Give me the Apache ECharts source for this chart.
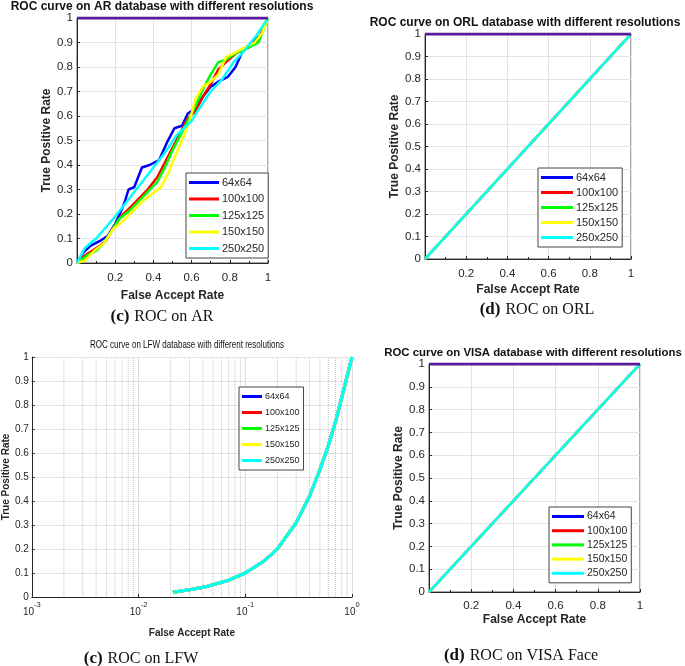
<!DOCTYPE html>
<html><head><meta charset="utf-8">
<script src="https://cdn.jsdelivr.net/npm/echarts@6/dist/echarts.min.js"></script>
<style>html,body{margin:0;padding:0;background:#fff}#c{width:685px;height:666px}</style>
</head><body><div id="c"></div>
<script>
// ---------- data ----------
const resolutions = ['64x64', '100x100', '125x125', '150x150', '250x250'];
const seriesColors = ['#0000ff', '#ff0000', '#00ff00', '#ffff00', '#00ffff'];

// AR database ROC (FAR, TPR)
const ar64 = [[0,0],[0.03,0.04],[0.07,0.07],[0.12,0.09],[0.16,0.11],[0.2,0.16],[0.23,0.21],[0.25,0.25],[0.27,0.3],[0.3,0.31],[0.34,0.39],[0.38,0.4],[0.43,0.42],[0.47,0.49],[0.51,0.55],[0.55,0.56],[0.58,0.61],[0.62,0.63],[0.66,0.68],[0.7,0.72],[0.74,0.74],[0.79,0.76],[0.83,0.8],[0.87,0.87],[0.92,0.9],[0.96,0.93],[1,1]];
const ar100 = [[0,0],[0.04,0.03],[0.08,0.05],[0.12,0.07],[0.15,0.09],[0.19,0.14],[0.23,0.19],[0.27,0.22],[0.32,0.26],[0.37,0.3],[0.42,0.35],[0.46,0.41],[0.5,0.47],[0.54,0.53],[0.58,0.59],[0.62,0.62],[0.66,0.68],[0.7,0.73],[0.74,0.79],[0.78,0.82],[0.84,0.86],[0.9,0.88],[0.95,0.91],[1,1]];
const ar125 = [[0,0],[0.05,0.03],[0.1,0.05],[0.14,0.08],[0.18,0.13],[0.22,0.18],[0.27,0.21],[0.32,0.25],[0.37,0.29],[0.42,0.33],[0.46,0.39],[0.5,0.46],[0.54,0.52],[0.58,0.58],[0.62,0.64],[0.66,0.71],[0.7,0.77],[0.74,0.82],[0.78,0.83],[0.84,0.86],[0.9,0.88],[0.95,0.9],[1,1]];
const ar150 = [[0,0],[0.04,0.01],[0.09,0.05],[0.14,0.08],[0.19,0.14],[0.24,0.17],[0.29,0.21],[0.34,0.25],[0.39,0.28],[0.44,0.31],[0.48,0.37],[0.51,0.43],[0.55,0.5],[0.59,0.58],[0.62,0.67],[0.66,0.72],[0.7,0.74],[0.74,0.77],[0.78,0.84],[0.83,0.86],[0.88,0.88],[0.93,0.9],[0.97,0.94],[1,1]];
const ar250 = [[0,0],[0.04,0.06],[0.1,0.1],[0.2,0.19],[0.3,0.29],[0.4,0.39],[0.46,0.45],[0.52,0.52],[0.56,0.55],[0.6,0.58],[0.64,0.63],[0.7,0.7],[0.76,0.75],[0.82,0.82],[0.88,0.87],[0.94,0.93],[1,1]];

// ORL and VISA: all resolutions on the chance diagonal
const diagonalRoc = [[0,0],[1,1]];
// line along TPR = 1
const topRoc = [[0,1],[1,1]];

// LFW (log FAR)
const lfwRoc = [[0.021,0.02],[0.03,0.03],[0.043,0.043],[0.07,0.07],[0.1,0.1],[0.15,0.15],[0.2,0.2],[0.3,0.31],[0.4,0.42],[0.5,0.53],[0.6,0.63],[0.7,0.73],[0.8,0.83],[0.9,0.92],[1,1]];

// tick labels
const linearXTickLabels = ['', '0.2', '0.4', '0.6', '0.8', '1'];
const logXTickExponents = {'-3': '-3', '-2': '-2', '-1': '-1', '0': '0'};
const lfwMinorTicks = [0.002,0.003,0.004,0.005,0.006,0.007,0.008,0.009,0.02,0.03,0.04,0.05,0.06,0.07,0.08,0.09,0.2,0.3,0.4,0.5,0.6,0.7,0.8,0.9];

const titles = [
  'ROC curve on AR database with different resolutions',
  'ROC curve on ORL database with different resolutions',
  'ROC curve on LFW database with different resolutions',
  'ROC curve on VISA database with different resolutions'
];
const captions = [['(c)', 'ROC on AR'], ['(d)', 'ROC on ORL'], ['(c)', 'ROC on LFW'], ['(d)', 'ROC on VISA Face']];

// ---------- chart ----------
const SANS = '"Liberation Sans", Arial, Helvetica, sans-serif';
const SERIF = '"Liberation Serif", "Times New Roman", serif';
const TXT = '#262626';

const grids = [
  {left: 77, top: 18, width: 191, height: 245},
  {left: 425, top: 34, width: 206, height: 225},
  {left: 24, top: 357, width: 328, height: 240},
  {left: 429, top: 364, width: 211, height: 228}
].map((g, i) => Object.assign({show: i !== 2, borderColor: '#555', borderWidth: 1, backgroundColor: 'transparent'}, g));

function linearX(idx, margin, nameGap) {
  return {
    type: 'value', gridIndex: idx, min: 0, max: 1, interval: 0.2,
    axisLine: {lineStyle: {color: TXT, width: 1}},
    axisTick: {inside: true, length: 3, lineStyle: {color: TXT}},
    minorTick: {show: true, splitNumber: 2, length: 2, lineStyle: {color: TXT}},
    splitLine: {show: true, lineStyle: {color: '#e3e3e3', width: 1}},
    axisLabel: {margin: margin, fontSize: 11.5, color: TXT, fontFamily: SANS,
      formatter: v => linearXTickLabels[Math.round(v / 0.2)]},
    name: 'False Accept Rate', nameLocation: 'middle', nameGap: nameGap,
    nameTextStyle: {fontSize: 12, fontWeight: 'bold', color: TXT, fontFamily: SANS}
  };
}
function linearY(idx, nameGap) {
  return {
    type: 'value', gridIndex: idx, min: 0, max: 1, interval: 0.1,
    axisLine: {lineStyle: {color: TXT, width: 1}},
    axisTick: {inside: true, length: 3, lineStyle: {color: TXT}},
    splitLine: {show: true, lineStyle: {color: '#e3e3e3', width: 1}},
    axisLabel: {margin: 4, fontSize: 11.5, color: TXT, fontFamily: SANS},
    name: 'True Positive Rate', nameLocation: 'middle', nameGap: nameGap,
    nameTextStyle: {fontSize: 12, fontWeight: 'bold', color: TXT, fontFamily: SANS}
  };
}

const xAxes = [
  linearX(0, 9, 27),
  linearX(1, 9, 25),
  {
    type: 'log', logBase: 10, gridIndex: 2, min: 0.001, max: 1,
    axisLine: {lineStyle: {color: TXT, width: 1}},
    axisTick: {inside: true, length: 3, lineStyle: {color: TXT}},
    splitLine: {show: true, lineStyle: {color: '#dcdcdc', width: 1}},
    axisLabel: {margin: 4, color: TXT, fontFamily: SANS,
      formatter: v => '{b|10}{s|' + (logXTickExponents[String(Math.round(Math.log10(v)))] || '') + '}',
      rich: {
        b: {fontSize: 10, lineHeight: 16, verticalAlign: 'bottom', color: TXT, fontFamily: SANS},
        s: {fontSize: 7.5, lineHeight: 16, verticalAlign: 'top', color: TXT, fontFamily: SANS}
      }},
    name: 'False Accept Rate', nameLocation: 'middle', nameGap: 31,
    nameTextStyle: {fontSize: 10, fontWeight: 'bold', color: TXT, fontFamily: SANS}
  },
  linearX(3, 8, 22)
];
const yAxes = [
  linearY(0, 22),
  linearY(1, 24),
  Object.assign(linearY(2, 13), {
    axisLabel: {margin: 3, fontSize: 10, color: TXT, fontFamily: SANS},
    nameTextStyle: {fontSize: 10, fontWeight: 'bold', color: TXT, fontFamily: SANS}
  }),
  linearY(3, 22)
];

function legend(left, top, iw, gap, fs, lh) {
  return {
    orient: 'vertical', left: left, top: top, data: resolutions.slice(),
    icon: 'rect', itemWidth: iw, itemHeight: 3, itemGap: gap,
    padding: [3, 4, 3, 3], borderColor: '#444', borderWidth: 1, backgroundColor: '#fff',
    selectedMode: false,
    textStyle: {fontSize: fs, color: TXT, fontFamily: SANS, lineHeight: lh, padding: [0, 0, 0, -2]}
  };
}
const legends = [
  legend(186, 173, 30, 3.5, 11, 13),
  legend(538, 168, 32, 2, 11, 13),
  legend(239, 387, 20, 3, 9, 13),
  legend(549, 507, 32, 1.2, 10.5, 13)
];

const series = [];
const arSets = [ar64, ar100, ar125, ar150, ar250];
function addGroup(idx, dataFor, width, z) {
  resolutions.forEach((name, k) => {
    series.push({
      type: 'line', name: name, xAxisIndex: idx, yAxisIndex: idx,
      data: dataFor(k), showSymbol: false, symbol: 'none', z: z,
      lineStyle: {color: seriesColors[k], width: width}, itemStyle: {color: seriesColors[k]},
      animation: false
    });
  });
}
addGroup(0, k => arSets[k], 2.5, 3);
addGroup(1, k => diagonalRoc, 2.5, 3);
addGroup(2, k => lfwRoc, 3, 10);
addGroup(3, k => diagonalRoc, 2.5, 3);
[0, 1, 3].forEach(idx => {
  series.push({
    type: 'line', name: 'tpr1', xAxisIndex: idx, yAxisIndex: idx, data: topRoc,
    showSymbol: false, symbol: 'none', z: 4, animation: false,
    lineStyle: {color: '#5a1a9c', width: 3}
  });
});
// dotted minor grid for the log axis (one vertical segment per minor tick)
lfwMinorTicks.forEach(v => {
  series.push({
    type: 'line', name: 'minor', xAxisIndex: 2, yAxisIndex: 2, data: [[v, 0], [v, 1]],
    z: 1, silent: true, animation: false, showSymbol: false, symbol: 'none',
    lineStyle: {type: 'dotted', color: '#c4c4c4', width: 1}
  });
});

const titlePos = [[162, 1, 12], [525, 17, 12], null, [533, 347, 11.4]];
const captionPos = [[162, 308], [537, 301], [141, 650], [521, 647]];
const titleList = [];
titles.forEach((t, i) => {
  const p = titlePos[i];
  if (!p) return;
  titleList.push({text: t, left: p[0], top: p[1], textAlign: 'center', padding: 0,
    textStyle: {fontSize: p[2], fontWeight: 'bold', color: '#111', fontFamily: SANS}});
});
captions.forEach((c, i) => {
  const p = captionPos[i];
  titleList.push({text: '{b|' + c[0] + '} {n|' + c[1] + '}', left: p[0], top: p[1], textAlign: 'center', padding: 0,
    textStyle: {fontWeight: 'normal', rich: {
      b: {fontSize: 17, fontWeight: 'bold', fontFamily: SERIF, color: '#111'},
      n: {fontSize: 16, fontWeight: 'normal', fontFamily: SERIF, color: '#111'}
    }}});
});

const chart = echarts.init(document.getElementById('c'), null, {renderer: 'canvas'});
chart.setOption({
  animation: false,
  backgroundColor: '#fff',
  title: titleList,
  legend: legends,
  grid: grids,
  xAxis: xAxes,
  yAxis: yAxes,
  series: series,
  graphic: [{
    type: 'text', left: 90, top: 339, scaleX: 0.73, originX: 0,
    style: {text: titles[2], fontSize: 11, fontFamily: SANS, fill: '#111'}
  }]
});
</script></body></html>
